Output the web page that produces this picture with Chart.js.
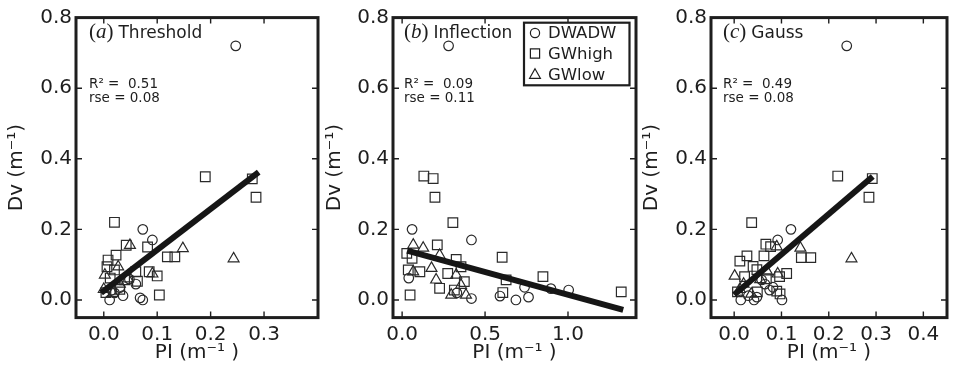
<!DOCTYPE html>
<html lang="en">
<head>
  <meta charset="UTF-8" />
  <title>Dv vs PI</title>
  <script src="https://cdn.jsdelivr.net/npm/chart.js"></script>
  <style>
    body { margin: 0; background: #fff; }
    #wrap { position: relative; width: 955px; height: 373px; overflow: hidden; }
    #wrap canvas { position: absolute; top: 0; }
  </style>
</head>
<body>
<div id="wrap">
  <canvas id="chartA" width="326" height="373" style="left:0px"></canvas>
  <canvas id="chartB" width="326" height="373" style="left:318px"></canvas>
  <canvas id="chartC" width="320" height="373" style="left:635px"></canvas>
</div>

<script>
// groups and axis ticks
const groups = ['DWADW', 'GWhigh', 'GWlow'];
const dvTicks = [0.0, 0.2, 0.4, 0.6, 0.8];
const aTicks = [0.0, 0.1, 0.2, 0.3];
const bTicks = [0.0, 0.5, 1.0];
const cTicks = [0.0, 0.1, 0.2, 0.3, 0.4];

// (a) Threshold
const aDwadwPI = [0.247, 0.073, 0.091, 0.048, 0.060, 0.036, 0.011, 0.073, 0.068, 0.020, 0.030, 0.015];
const aDwadwDv = [0.720, 0.200, 0.170, 0.059, 0.045, 0.012, 0.000, 0.000, 0.006, 0.020, 0.035, 0.028];
const aHighPI = [0.190, 0.278, 0.285, 0.020, 0.082, 0.042, 0.119, 0.133, 0.008, 0.023, 0.100, 0.085, 0.104, 0.060, 0.006, 0.012, 0.004, 0.039, 0.030, 0.020, 0.063];
const aHighDv = [0.349, 0.343, 0.291, 0.220, 0.150, 0.155, 0.122, 0.122, 0.113, 0.127, 0.068, 0.080, 0.014, 0.080, 0.094, 0.062, 0.021, 0.057, 0.030, 0.085, 0.053];
const aLowPI = [0.243, 0.148, 0.049, 0.027, 0.091, 0.002, 0.017, 0.000, 0.030, 0.045];
const aLowDv = [0.117, 0.146, 0.155, 0.094, 0.074, 0.071, 0.019, 0.030, 0.045, 0.060];
const aFitPI = [-0.005, 0.290];
const aFitDv = [0.020, 0.362];

// (b) Inflection
const bDwadwPI = [0.280, 0.060, 0.418, 0.040, 0.738, 0.897, 1.004, 0.590, 0.762, 0.418, 0.686, 0.330];
const bDwadwDv = [0.720, 0.200, 0.170, 0.062, 0.036, 0.032, 0.028, 0.011, 0.008, 0.004, 0.000, 0.020];
const bHighPI = [0.131, 0.187, 0.198, 0.306, 0.212, 0.603, 0.326, 0.028, 0.060, 0.107, 0.048, 0.627, 0.849, 1.321, 0.607, 0.226, 0.275, 0.355, 0.375, 0.315, 0.037];
const bHighDv = [0.351, 0.344, 0.291, 0.219, 0.156, 0.121, 0.115, 0.132, 0.118, 0.080, 0.014, 0.057, 0.066, 0.023, 0.021, 0.033, 0.075, 0.094, 0.052, 0.028, 0.085];
const bLowPI = [0.067, 0.127, 0.226, 0.177, 0.205, 0.067, 0.296, 0.326, 0.355, 0.385];
const bLowDv = [0.156, 0.147, 0.127, 0.090, 0.057, 0.080, 0.014, 0.071, 0.042, 0.014];
const bFitPI = [0.030, 1.333];
const bFitDv = [0.140, -0.028];

// (c) Gauss
const cDwadwPI = [0.238, 0.120, 0.092, 0.058, 0.082, 0.075, 0.014, 0.042, 0.101, 0.048, 0.030, 0.065];
const cDwadwDv = [0.720, 0.200, 0.170, 0.057, 0.036, 0.028, 0.000, 0.000, 0.000, 0.008, 0.012, 0.045];
const cHighPI = [0.219, 0.292, 0.285, 0.037, 0.077, 0.067, 0.142, 0.162, 0.012, 0.027, 0.063, 0.111, 0.096, 0.097, 0.048, 0.022, 0.007, 0.068, 0.049, 0.040, 0.090];
const cHighDv = [0.351, 0.344, 0.291, 0.219, 0.151, 0.158, 0.120, 0.120, 0.110, 0.125, 0.125, 0.075, 0.066, 0.017, 0.086, 0.066, 0.023, 0.060, 0.023, 0.095, 0.025];
const cLowPI = [0.248, 0.140, 0.090, 0.092, 0.001, 0.055, 0.036, 0.012, 0.020, 0.070];
const cLowDv = [0.117, 0.147, 0.151, 0.074, 0.068, 0.058, 0.017, 0.030, 0.045, 0.080];
const cFitPI = [0.000, 0.293];
const cFitDv = [0.015, 0.350];

const sans = "'DejaVu Sans', Verdana, sans-serif";
const serif = "'Liberation Serif', 'Times New Roman', serif";
const ink = '#1e1e1e';

function pts(xs, ys) {
  return xs.map((x, i) => ({ x: x, y: ys[i] }));
}

// hollow marker shapes for the legend
function shape(ctx, kind, x, y) {
  ctx.beginPath();
  if (kind === 'circle') {
    ctx.arc(x, y, 4.6, 0, Math.PI * 2);
  } else if (kind === 'rect') {
    ctx.rect(x - 4.6, y - 4.6, 9.2, 9.2);
  } else {
    ctx.moveTo(x, y - 5.8);
    ctx.lineTo(x + 5.4, y + 3.8);
    ctx.lineTo(x - 5.4, y + 3.8);
    ctx.closePath();
  }
  ctx.stroke();
}

// box, inward ticks, panel texts, legend
function makeFrame(cfg) {
  return {
    id: 'frame',
    afterDraw(chart) {
      const { ctx, chartArea: a, scales } = chart;
      ctx.save();
      ctx.strokeStyle = ink;
      ctx.lineWidth = 1.4;
      ctx.beginPath();
      scales.x.ticks.forEach(t => {
        const px = scales.x.getPixelForValue(t.value);
        ctx.moveTo(px, a.bottom); ctx.lineTo(px, a.bottom - 6);
        ctx.moveTo(px, a.top); ctx.lineTo(px, a.top + 6);
      });
      scales.y.ticks.forEach(t => {
        const py = scales.y.getPixelForValue(t.value);
        ctx.moveTo(a.left, py); ctx.lineTo(a.left + 6, py);
        ctx.moveTo(a.right, py); ctx.lineTo(a.right - 6, py);
      });
      ctx.stroke();
      ctx.lineWidth = 3;
      ctx.strokeRect(a.left, a.top, a.right - a.left, a.bottom - a.top);

      // panel label: (a) Threshold
      ctx.fillStyle = ink;
      ctx.textBaseline = 'alphabetic';
      ctx.textAlign = 'left';
      let x = a.left + cfg.textDx;
      ctx.font = '21px ' + serif;
      ctx.fillText('(', x, 38); x += ctx.measureText('(').width;
      ctx.font = 'italic 21px ' + serif;
      ctx.fillText(cfg.letter, x, 38); x += ctx.measureText(cfg.letter).width;
      ctx.font = '21px ' + serif;
      ctx.fillText(')', x, 38); x += ctx.measureText(')').width + 5;
      ctx.font = '17px ' + sans;
      ctx.fillText(cfg.name, x, 38);

      ctx.font = '13.5px ' + sans;
      ctx.fillText('R² =  ' + cfg.r2, a.left + cfg.textDx, 88);
      ctx.fillText('rse = ' + cfg.rse, a.left + cfg.textDx, 102);

      if (cfg.legend) {
        const bx = a.right - 112, by = 22.7, bw = 105.5, bh = 62.6;
        ctx.fillStyle = '#fff';
        ctx.fillRect(bx, by, bw, bh);
        ctx.lineWidth = 2.2;
        ctx.strokeRect(bx, by, bw, bh);
        const kinds = ['circle', 'rect', 'triangle'];
        const rows = [33, 53.5, 74.5];
        ctx.lineWidth = 1.2;
        ctx.font = '16.5px ' + sans;
        ctx.textBaseline = 'middle';
        ctx.fillStyle = ink;
        groups.forEach((g, i) => {
          shape(ctx, kinds[i], bx + 11, rows[i]);
          ctx.fillText(g, bx + 24, rows[i] + 1);
        });
      }
      ctx.restore();
    }
  };
}

function makePanel(id, cfg) {
  const marker = { backgroundColor: 'rgba(0,0,0,0)', borderColor: '#2a2a2a', borderWidth: 1.2, order: 1 };
  return new Chart(document.getElementById(id), {
    type: 'scatter',
    data: {
      datasets: [
        { type: 'line', label: 'fit', data: pts(cfg.fitPI, cfg.fitDv), borderColor: '#161616',
          borderWidth: 6, pointRadius: 0, fill: false, order: 0, borderCapStyle: 'butt' },
        Object.assign({ label: groups[0], data: pts(cfg.dwPI, cfg.dwDv), pointStyle: 'circle', pointRadius: 4.8 }, marker),
        Object.assign({ label: groups[1], data: pts(cfg.hiPI, cfg.hiDv), pointStyle: 'rect', pointRadius: 6.8 }, marker),
        Object.assign({ label: groups[2], data: pts(cfg.loPI, cfg.loDv), pointStyle: 'triangle', pointRadius: 6.3 }, marker)
      ]
    },
    options: {
      responsive: false,
      animation: false,
      events: [],
      layout: { padding: { left: 0, top: 17.6, right: cfg.padRight, bottom: 0 } },
      plugins: { legend: { display: false }, tooltip: { enabled: false } },
      scales: {
        x: {
          type: 'linear', min: cfg.xMin, max: cfg.xMax,
          afterBuildTicks: s => { s.ticks = cfg.xTicks.map(v => ({ value: v })); },
          afterFit: s => { s.height = 55.4; },
          grid: { display: false, drawTicks: false },
          border: { display: false },
          ticks: { font: { family: sans, size: 20 }, color: ink, padding: 5, maxRotation: 0, autoSkip: false,
                   callback: v => Number(v).toFixed(1) },
          title: { display: true, text: 'PI (m⁻¹ )', font: { family: sans, size: 20 }, color: ink,
                   padding: { top: 0, bottom: 8 } }
        },
        y: {
          type: 'linear', min: -0.05, max: 0.8,
          afterBuildTicks: s => { s.ticks = dvTicks.map(v => ({ value: v })); },
          afterFit: s => { s.width = cfg.yWidth; },
          grid: { display: false, drawTicks: false },
          border: { display: false },
          ticks: { font: { family: sans, size: 20 }, color: ink, padding: 4, autoSkip: false,
                   callback: v => Number(v).toFixed(1) },
          title: { display: true, text: 'Dv (m⁻¹)', font: { family: sans, size: 20 }, color: ink,
                   padding: { top: 5, bottom: 0 } }
        }
      }
    },
    plugins: [makeFrame(cfg)]
  });
}

makePanel('chartA', {
  letter: 'a', name: 'Threshold', r2: '0.51', rse: '0.08', textDx: 13, legend: false,
  xMin: -0.052, xMax: 0.401, xTicks: aTicks, yWidth: 76, padRight: 5,
  dwPI: aDwadwPI, dwDv: aDwadwDv, hiPI: aHighPI, hiDv: aHighDv, loPI: aLowPI, loDv: aLowDv,
  fitPI: aFitPI, fitDv: aFitDv
});

makePanel('chartB', {
  letter: 'b', name: 'Inflection', r2: '0.09', rse: '0.11', textDx: 11, legend: true,
  xMin: -0.055, xMax: 1.41, xTicks: bTicks, yWidth: 75, padRight: 5,
  dwPI: bDwadwPI, dwDv: bDwadwDv, hiPI: bHighPI, hiDv: bHighDv, loPI: bLowPI, loDv: bLowDv,
  fitPI: bFitPI, fitDv: bFitDv
});

makePanel('chartC', {
  letter: 'c', name: 'Gauss', r2: '0.49', rse: '0.08', textDx: 12, legend: false,
  xMin: -0.049, xMax: 0.45, xTicks: cTicks, yWidth: 76, padRight: 1,
  dwPI: cDwadwPI, dwDv: cDwadwDv, hiPI: cHighPI, hiDv: cHighDv, loPI: cLowPI, loDv: cLowDv,
  fitPI: cFitPI, fitDv: cFitDv
});
</script>
</body>
</html>
